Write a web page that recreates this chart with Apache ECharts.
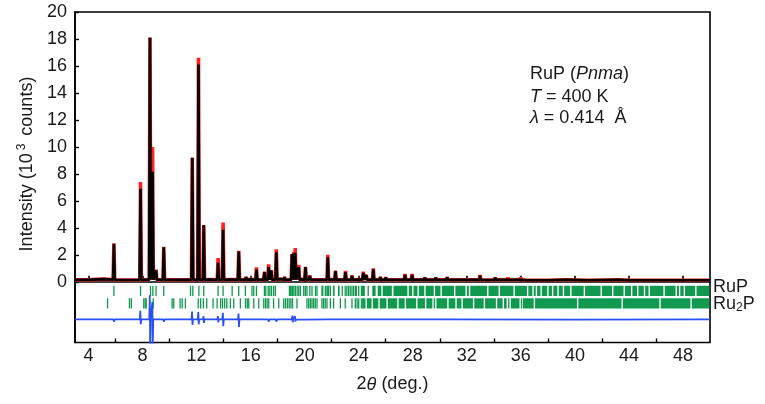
<!DOCTYPE html>
<html>
<head>
<meta charset="utf-8">
<script src="https://cdn.jsdelivr.net/npm/echarts@6/dist/echarts.min.js"></script>
<style>
html,body{margin:0;padding:0;background:#fff;}
#chart{width:765px;height:404px;}
</style>
</head>
<body>
<div id="chart"></div>
<script>
// ---------- data ----------
const xTickLabels = [4, 8, 12, 16, 20, 24, 28, 32, 36, 40, 44, 48];
const xMinorTicks = [6, 10, 14, 18, 22, 26, 30, 34, 38, 42, 46];
const yTickLabels = [0, 2, 4, 6, 8, 10, 12, 14, 16, 18, 20];

// background of the pattern (2theta, intensity /10^3)
const background = [[3,0.15],[4,0.14],[4.6,0.18],[5.2,0.2],[5.6,0.17],[6.5,0.13],[8.2,0.14],[10,0.15],[11,0.14],[13,0.16],[14.5,0.17],[16,0.18],[18.2,0.2],[19.8,0.18],[22,0.17],[24,0.16],[26.5,0.15],[29.2,0.14],[31,0.14],[33.5,0.13],[36.5,0.12],[38,0.12],[41,0.12],[44,0.11],[47,0.11],[50,0.11]];

// peaks: position, calculated height, observed height
const peakPos  = [5.88,7.85,8.55,8.74,9.0,9.57,11.68,12.14,12.53,13.59,13.96,15.12,15.66,16.43,17.02,17.33,17.53,17.9,18.5,19.06,19.19,19.3,19.56,20.06,20.38,20.8,21.71,22.28,23.02,23.5,24.34,24.56,25.08,25.6,26.0,27.43,27.95,28.9,29.7,30.55,31.6,32.98,34.1,35.06,36.0,39.3,39.5,43.35];
const peakCalc = [2.8,6.9,18.1,8.15,0.85,2.55,9.2,16.1,4.2,1.4,3.85,2.25,0.35,0.9,0.74,1.1,0.85,2.2,0.35,2.05,2.1,2.15,1.1,1.1,0.45,0.25,1.82,0.8,0.72,0.45,0.65,0.5,0.92,0.35,0.33,0.5,0.5,0.3,0.3,0.33,0.2,0.45,0.3,0.28,0.28,0.22,0.25,0.23];
const peakObs  = [2.85,7.4,18.1,10.0,0.9,2.6,9.2,16.6,4.2,1.75,4.4,2.3,0.35,1.07,0.74,1.3,0.85,2.4,0.35,2.05,2.2,2.5,1.25,1.1,0.45,0.25,2.0,0.82,0.8,0.45,0.75,0.5,1.0,0.35,0.33,0.57,0.58,0.32,0.32,0.35,0.22,0.5,0.32,0.3,0.3,0.25,0.28,0.25];

// difference curve: baseline and spikes [position, upper, lower]
const diffBase = [[3,-2.78],[6,-2.8],[10,-2.79],[20,-2.8],[30,-2.79],[40,-2.8],[50,-2.79]];
const diffSpikes = [[5.88,-2.7,-2.95],[7.85,-2.15,-3.15],[8.55,-1.0,-4.8],[8.74,-1.5,-4.8],[9.57,-2.65,-2.95],[11.68,-2.2,-3.2],[12.14,-2.25,-3.15],[12.53,-2.55,-3.05],[13.59,-2.55,-3.0],[13.96,-2.3,-3.3],[15.12,-2.35,-3.35],[16.43,-2.7,-2.9],[17.33,-2.65,-2.95],[17.9,-2.65,-2.95],[19.1,-2.5,-3.0],[19.3,-2.55,-2.95],[21.71,-2.7,-2.9],[22.28,-2.72,-2.87],[25.08,-2.72,-2.88]];

// Bragg reflection markers: single positions and dense bands [from, to]
const rupTicks = [5.88,7.85,8.59,8.76,9.0,9.57,11.55,11.72,12.17,12.53,13.59,13.96,14.63,15.12,15.61,16.1,16.23,16.43,17.02,17.12,17.3,17.42,17.54,17.7,17.83,18.87,18.95,19.05,19.11,19.2,19.31,19.44,19.56,19.68,19.93,20.05,20.17,20.38,20.54,20.8,20.91,21.28,21.34,21.53,21.65,21.71,21.77,21.9,22.14,22.16,22.51,22.53,22.78,23.0,23.12,23.25,23.37,23.5,23.62,23.75,23.82,24.0];
const rupBands = [[24.2,24.5],[24.7,24.8],[25.05,25.3],[25.45,25.72],[25.82,26.5],[26.62,27.65],[27.75,28.0],[28.1,28.4],[28.5,28.9],[29.0,29.6],[29.7,30.1],[30.2,31.1],[31.2,31.95],[32.05,32.2],[32.3,33.55],[33.65,34.4],[34.5,35.5],[35.6,36.5],[36.6,36.9],[37.0,37.15],[37.25,37.5],[37.6,38.0],[38.1,38.35],[38.45,38.75],[38.85,39.15],[39.25,39.7],[39.8,40.7],[40.8,41.95],[42.05,42.8],[42.9,43.65],[43.75,44.2],[44.3,44.65],[44.75,45.15],[45.25,45.5],[45.6,46.6],[46.7,47.5],[47.6,47.75],[47.85,48.1],[48.2,48.95],[49.05,50]];
const ru2pTicks = [5.41,7.03,7.17,8.09,8.2,8.27,8.79,10.19,10.31,10.78,10.93,11.17,12.12,12.3,12.5,12.75,13.22,13.52,13.78,13.92,14.08,14.24,14.5,14.75,15.24,15.62,15.75,15.86,16.23,16.6,16.97,17.1,17.22,17.34,17.7,18.08,18.45,18.58,18.72,18.85,18.98,19.1,19.43,20.17,20.3,20.42,20.54,20.66,20.78,20.91,21.28,21.4,21.52,21.65,21.9,22.14,22.64,23.0,23.5,23.75,23.88,24.0,24.2];
const ru2pBands = [[24.3,24.55],[24.65,25.0],[25.1,25.5],[25.6,26.1],[26.2,26.9],[27.0,27.45],[27.55,28.3],[28.4,28.95],[29.05,29.5],[29.6,29.7],[29.8,30.6],[30.7,31.2],[31.3,31.65],[31.75,32.5],[32.6,33.3],[33.4,34.2],[34.3,34.7],[34.8,35.0],[35.1,35.2],[35.3,35.95],[36.05,36.1],[36.2,37.0],[37.1,40.2],[40.3,43.5],[43.6,46.3],[46.4,48.6],[48.7,50]];

// ---------- build series data ----------
const HW = 0.06, FOOT = 0.15;
function profile(heights) {
  const pts = background.map(p => [p[0], p[1]]);
  peakPos.forEach((x, i) => {
    pts.push([x - HW, FOOT], [x, heights[i]], [x + HW, FOOT]);
  });
  pts.sort((a, b) => a[0] - b[0]);
  return pts;
}
const obsData = profile(peakObs);
const calcData = profile(peakCalc);

const DB = -2.79;
const diffData = diffBase.map(p => [p[0], p[1]]);
diffSpikes.forEach(s => {
  diffData.push([s[0] - 0.05, DB], [s[0] - 0.015, s[1]], [s[0] + 0.015, s[2]], [s[0] + 0.05, DB]);
});
diffData.sort((a, b) => a[0] - b[0]);

function tickRows(singles, bands, yTop, yBot) {
  const out = singles.map(x => [x, x, yTop, yBot]);
  bands.forEach(b => out.push([b[0], b[1], yTop, yBot]));
  return out;
}
const rupRow = tickRows(rupTicks, rupBands, -0.3, -1.05);
const ru2pRow = tickRows(ru2pTicks, ru2pBands, -1.22, -1.98);

const GREEN = '#11994f';
function renderTick(params, api) {
  const p0 = api.coord([api.value(0), api.value(2)]);
  const p1 = api.coord([api.value(1), api.value(3)]);
  const w = Math.max(p1[0] - p0[0], 1.3);
  return {
    type: 'rect',
    shape: { x: p0[0] - 0.65, y: p0[1], width: w, height: p1[1] - p0[1] },
    style: { fill: GREEN }
  };
}

const FONT = "'Liberation Sans', Arial, Helvetica, sans-serif";
const chart = echarts.init(document.getElementById('chart'), null, { renderer: 'canvas' });

chart.setOption({
  animation: false,
  backgroundColor: '#fff',
  textStyle: { fontFamily: FONT },
  grid: { left: 75, right: 55, top: 12, bottom: 61.5, show: true, borderColor: '#000', borderWidth: 1.6, backgroundColor: 'transparent' },
  xAxis: [{
    type: 'value', min: 3, max: 50,
    axisLine: { show: true, lineStyle: { color: '#000', width: 1.6 } },
    axisTick: { show: true, inside: true, length: 6, customValues: xTickLabels, lineStyle: { color: '#000', width: 1.6 } },
    axisLabel: { show: true, customValues: xTickLabels, fontSize: 18, color: '#1a1a1a', margin: 5, fontFamily: FONT },
    splitLine: { show: false },
    name: '2{i|θ} (deg.)', nameLocation: 'middle', nameGap: 33,
    nameTextStyle: { fontSize: 18, color: '#1a1a1a', fontFamily: FONT, rich: { i: { fontStyle: 'italic', fontSize: 18, fontFamily: FONT, color: '#1a1a1a' } } }
  }, {
    type: 'value', min: 3, max: 50, position: 'bottom', gridIndex: 0,
    axisLine: { show: false },
    axisTick: { show: true, inside: true, length: 4, customValues: xMinorTicks, lineStyle: { color: '#000', width: 1.4 } },
    axisLabel: { show: false },
    splitLine: { show: false }
  }],
  yAxis: {
    type: 'value', min: -4.5, max: 20,
    axisLine: { show: true, lineStyle: { color: '#000', width: 1.6 } },
    axisTick: { show: true, inside: true, length: 4, customValues: yTickLabels, lineStyle: { color: '#000', width: 1.4 } },
    axisLabel: { show: true, customValues: yTickLabels, fontSize: 18, color: '#1a1a1a', margin: 8, fontFamily: FONT },
    splitLine: { show: false }
  },
  series: [
    { name: 'obs', type: 'line', data: obsData, showSymbol: false, lineStyle: { color: '#ff2020', width: 3.6 }, z: 2, clip: true },
    { name: 'calc', type: 'line', data: calcData, showSymbol: false, lineStyle: { color: '#000', width: 2.6 }, z: 3, clip: true },
    { name: 'diff', type: 'line', data: diffData, showSymbol: false, lineStyle: { color: '#2a4ff5', width: 1.8 }, z: 3, clip: true },
    { name: 'RuP ticks', type: 'custom', renderItem: renderTick, data: rupRow, encode: { x: [0, 1], y: [2, 3] }, clip: true, z: 2 },
    { name: 'Ru2P ticks', type: 'custom', renderItem: renderTick, data: ru2pRow, encode: { x: [0, 1], y: [2, 3] }, clip: true, z: 2 }
  ],
  graphic: [
    { type: 'text', x: 27, y: 164, rotation: Math.PI / 2,
      style: { text: 'Intensity (10{sup|3} counts)', font: '18px ' + FONT, fill: '#1a1a1a', align: 'center', verticalAlign: 'middle',
        rich: { sup: { fontSize: 12, fontFamily: FONT, verticalAlign: 'top', fill: '#1a1a1a', padding: [0, 3, 10, 3] } } } },
    { type: 'text', x: 530, y: 74,
      style: { text: 'RuP ({i|Pnma})', font: '18px ' + FONT, fill: '#1a1a1a', verticalAlign: 'middle',
        rich: { i: { fontStyle: 'italic', fontSize: 18, fontFamily: FONT, fill: '#1a1a1a' } } } },
    { type: 'text', x: 530, y: 97,
      style: { text: '{i|T} = 400 K', font: '18px ' + FONT, fill: '#1a1a1a', verticalAlign: 'middle',
        rich: { i: { fontStyle: 'italic', fontSize: 18, fontFamily: FONT, fill: '#1a1a1a' } } } },
    { type: 'text', x: 530, y: 118,
      style: { text: '{i|λ} = 0.414  Å', font: '18px ' + FONT, fill: '#1a1a1a', verticalAlign: 'middle',
        rich: { i: { fontStyle: 'italic', fontSize: 18, fontFamily: FONT, fill: '#1a1a1a' } } } },
    { type: 'text', x: 713, y: 287,
      style: { text: 'RuP', font: '18px ' + FONT, fill: '#1a1a1a', verticalAlign: 'middle' } },
    { type: 'text', x: 713, y: 304,
      style: { text: 'Ru{sub|2}P', font: '18px ' + FONT, fill: '#1a1a1a', verticalAlign: 'middle',
        rich: { sub: { fontSize: 12, fontFamily: FONT, fill: '#1a1a1a', verticalAlign: 'bottom', padding: [8, 0, 0, 0] } } } }
  ]
});
</script>
</body>
</html>
